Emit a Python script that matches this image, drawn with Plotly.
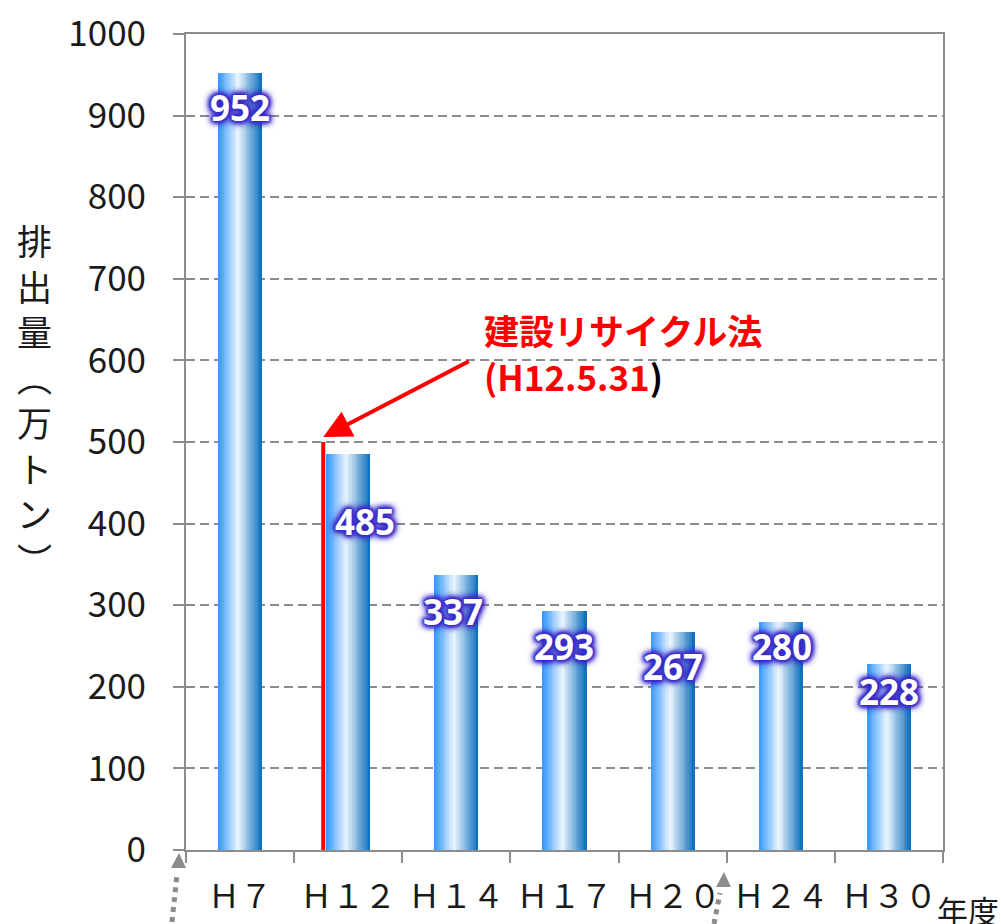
import plotly.graph_objects as go

# ---- data ----
CATEGORIES = ["H7", "H12", "H14", "H17", "H20", "H24", "H30"]
TICK_TEXT = ["Ｈ７", "Ｈ１２", "Ｈ１４", "Ｈ１７", "Ｈ２０", "Ｈ２４", "Ｈ３０"]
VALUES = [952, 485, 337, 293, 267, 280, 228]
Y_TICKS = [0, 100, 200, 300, 400, 500, 600, 700, 800, 900, 1000]
LAW_VALUE = 500  # law enacted marker height
LAW_TEXT_1 = "建設リサイクル法"
LAW_TEXT_2 = "(H12.5.31"

# ---- style ----
FONT_JP = "Noto Sans CJK JP"
GRAY = "#8c8c8c"
BAR_WIDTH = 0.4074
N_STRIPS = 24
STOPS = [(0.0, (48, 150, 255)), (0.45, (236, 246, 253)), (1.0, (8, 108, 188))]
LABEL_DY = [34, 67, 36, 36, 34, 25, 28]     # px below bar top
LABEL_DX = [0, 17, -3, -1, 0, 1, 0]          # px
GLOW = "#3c2dc8"


def grad(t):
    for (t0, c0), (t1, c1) in zip(STOPS[:-1], STOPS[1:]):
        if t0 <= t <= t1:
            f = (t - t0) / (t1 - t0)
            c = [round(a + (b - a) * f) for a, b in zip(c0, c1)]
            return "rgb(%d,%d,%d)" % tuple(c)
    return "rgb(%d,%d,%d)" % STOPS[-1][1]


fig = go.Figure()
w = BAR_WIDTH / N_STRIPS
for i in range(N_STRIPS):
    fig.add_trace(go.Bar(
        x=CATEGORIES, y=VALUES,
        width=w + (0.004 if i < N_STRIPS - 1 else 0),
        offset=-BAR_WIDTH / 2 + i * w,
        marker=dict(color=grad((i + 0.5) / N_STRIPS), line=dict(width=0)),
        showlegend=False, hoverinfo="skip",
    ))

# value labels
glow = ", ".join(["0 0 2px " + GLOW] * 2 + ["0 0 4px " + GLOW] * 3 + ["0 0 7px " + GLOW] * 3 + ["0 0 10px " + GLOW])
for i, (c, v) in enumerate(zip(CATEGORIES, VALUES)):
    fig.add_annotation(
        x=c, y=v, yshift=-LABEL_DY[i], xshift=LABEL_DX[i],
        text="<b>%d</b>" % v, showarrow=False, yanchor="middle",
        font=dict(family="Noto Sans", size=35, color="white", shadow=glow),
    )

# red law line
law_x = 1 - 0.231
fig.add_shape(type="line", xref="x", yref="y", x0=law_x, x1=law_x, y0=0, y1=LAW_VALUE,
              line=dict(color="#ff0000", width=4), layer="above")
fig.add_annotation(
    xref="x", yref="y", x=law_x, y=LAW_VALUE + 6, axref="x", ayref="y", ax=2.13, ay=600,
    text="", showarrow=True, arrowhead=2, arrowsize=1.4, arrowwidth=4, arrowcolor="#ff0000",
)
fig.add_annotation(
    xref="x", yref="y", x=2.24, y=(850 - 329) / 0.816, xanchor="left", yanchor="middle", align="left",
    text="<b>%s</b>" % LAW_TEXT_1,
    showarrow=False, font=dict(family=FONT_JP, size=35, color="#ff0000"),
)
fig.add_annotation(
    xref="x", yref="y", x=2.24, y=(850 - 375) / 0.816, xanchor="left", yanchor="middle", align="left",
    text="<b>%s<span style='color:black'>)</span></b>" % LAW_TEXT_2,
    showarrow=False, font=dict(family=FONT_JP, size=35, color="#ff0000"),
)

# vertical y-axis title
fig.add_annotation(
    xref="paper", yref="paper", x=-0.1995, y=0.553, xanchor="center", yanchor="middle",
    text="<br>".join(list("排出量︵万トン︶")), showarrow=False,
    font=dict(family=FONT_JP, size=35, color="#1a1a1a"),
)
# x-axis unit
fig.add_annotation(
    xref="paper", yref="paper", x=0.990, y=-0.073, xanchor="left", yanchor="middle",
    text="年度", showarrow=False, font=dict(family=FONT_JP, size=31, color="#1a1a1a"),
)
# clipped paren at right edge
fig.add_annotation(
    xref="paper", yref="paper", x=1.0765, y=0.50, xanchor="left", yanchor="middle",
    text="(", showarrow=False, font=dict(family=FONT_JP, size=44, color="#1a1a1a"),
)


# dotted arrows at bottom
def px(x, y):
    return (x - 186) / 757, (850 - y) / 816


for (tx, ty), (b1x, b1y), (b2x, b2y), (s0x, s0y), (s1x, s1y) in [
    ((179, 853), (171, 868), (186, 868), (172, 922), (177, 874)),
    ((724, 872), (716, 887), (731, 887), (714, 924), (720, 893)),
]:
    p = [px(tx, ty), px(b1x, b1y), px(b2x, b2y)]
    fig.add_shape(type="path", xref="paper", yref="paper",
                  path="M %f %f L %f %f L %f %f Z" % (p[0] + p[1] + p[2]),
                  fillcolor=GRAY, line=dict(width=0))
    a, b = px(s0x, s0y), px(s1x, s1y)
    fig.add_shape(type="line", xref="paper", yref="paper", x0=a[0], y0=a[1], x1=b[0], y1=b[1],
                  line=dict(color=GRAY, width=5, dash="dot"))

fig.update_layout(
    width=1001, height=924,
    margin=dict(l=186, r=58, t=34, b=74, autoexpand=False),
    plot_bgcolor="white", paper_bgcolor="white",
    barmode="overlay", bargap=0,
    xaxis=dict(
        type="category", range=[-0.5, 6.5], tickmode="array", tickvals=CATEGORIES, ticktext=TICK_TEXT,
        tickson="boundaries", ticks="outside", ticklen=11, tickwidth=2, tickcolor=GRAY,
        showline=True, linecolor=GRAY, linewidth=2, mirror=True, showgrid=False, automargin=False,
        tickfont=dict(family=FONT_JP, size=32, color="#1a1a1a"), ticklabelstandoff=18,
    ),
    yaxis=dict(
        range=[0, 1000], tickmode="array", tickvals=Y_TICKS, automargin=False,
        ticks="outside", ticklen=11, tickwidth=2, tickcolor=GRAY,
        showline=True, linecolor=GRAY, linewidth=2, mirror=True,
        showgrid=True, gridcolor=GRAY, gridwidth=2, griddash="9px,5px", zeroline=False,
        tickfont=dict(family=FONT_JP, size=35, color="#1a1a1a"), ticklabelstandoff=20,
    ),
)

fig.write_html("out.html")
